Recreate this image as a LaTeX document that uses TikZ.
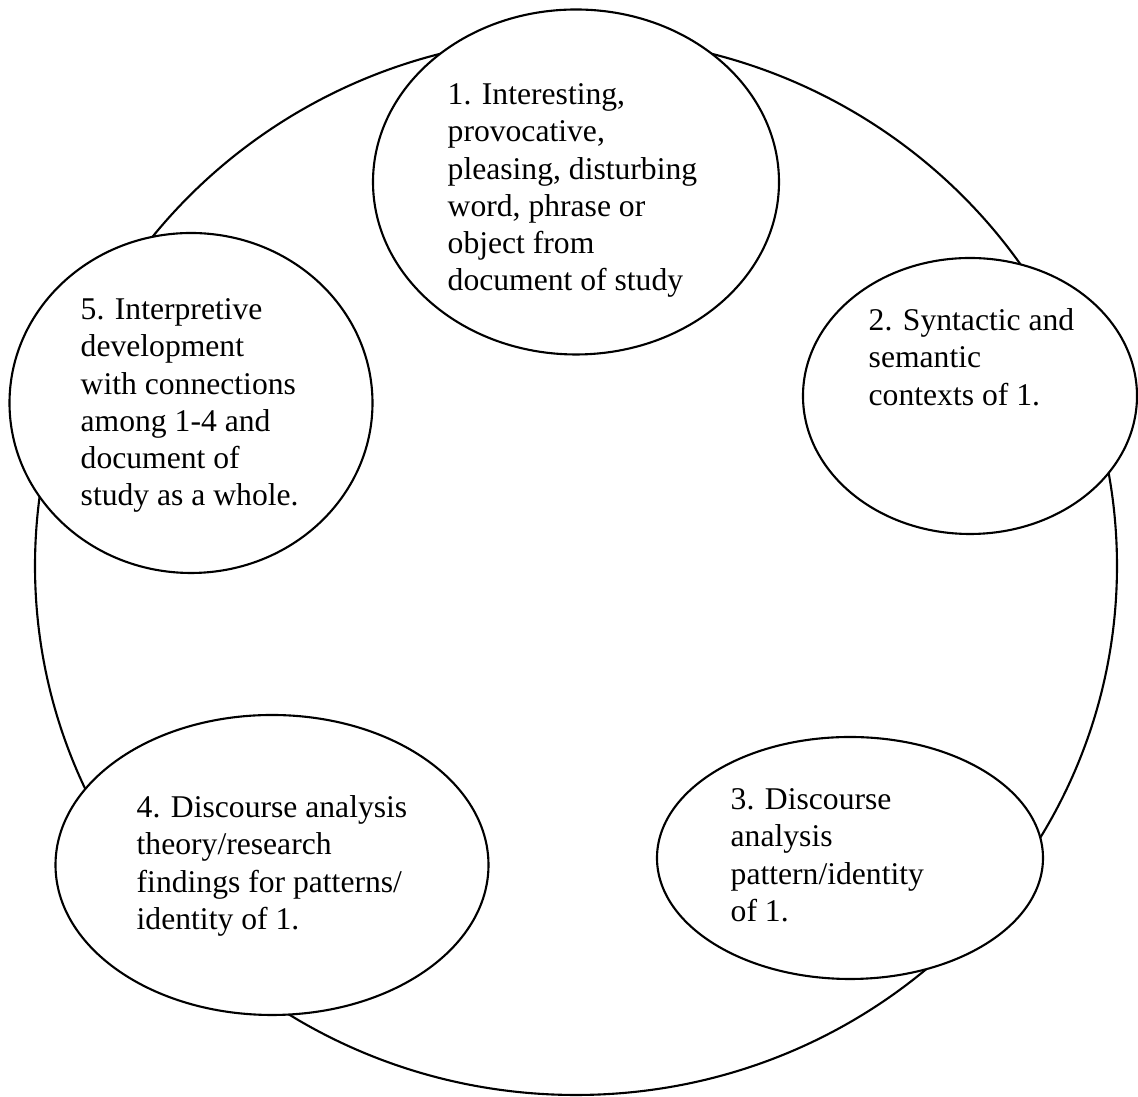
\documentclass[tikz,border=0pt]{standalone}
\usepackage{fontspec}
\setmainfont{Liberation Serif}
\usepackage{tikz}
\usetikzlibrary{shapes.geometric}

\begin{document}
\begin{tikzpicture}[x=0.1mm,y=-0.1mm,
        bubble/.style={draw,ellipse,fill=white,line width=0.6pt,inner sep=0pt},
        txt/.style={anchor=north west,inner sep=0pt,align=left,font=\fontsize{9}{10.6}\selectfont}]
        \path[use as bounding box,fill=white] (0,0) rectangle (1138,1097);
        \node[bubble,fill=none,minimum width=108.2mm,minimum height=105.8mm] (ring) at (576,566) {};
        \node[bubble,minimum width=40.6mm,minimum height=34.5mm] (e1) at (576,182) {};
        \node[bubble,minimum width=33.4mm,minimum height=27.6mm] (e2) at (970,396) {};
        \node[bubble,minimum width=38.6mm,minimum height=24.2mm] (e3) at (850,858) {};
        \node[bubble,minimum width=43.3mm,minimum height=30.0mm] (e4) at (272,865) {};
        \node[bubble,minimum width=36.3mm,minimum height=34.0mm] (e5) at (191,403) {};
        \node[txt] (t1) at (447,83) {1. Interesting,\\provocative,\\pleasing, disturbing\\word, phrase or\\object from\\document of study};
        \node[txt] (t2) at (868,308) {2. Syntactic and\\semantic\\contexts of 1.};
        \node[txt] (t3) at (730,788) {3. Discourse\\analysis\\pattern/identity\\of 1.};
        \node[txt] (t4) at (136,795) {4. Discourse analysis\\theory/research\\findings for patterns/\\identity of 1.};
        \node[txt] (t5) at (80,298) {5. Interpretive\\development\\with connections\\among 1-4 and\\document of\\study as a whole.};
\end{tikzpicture}
\end{document}
